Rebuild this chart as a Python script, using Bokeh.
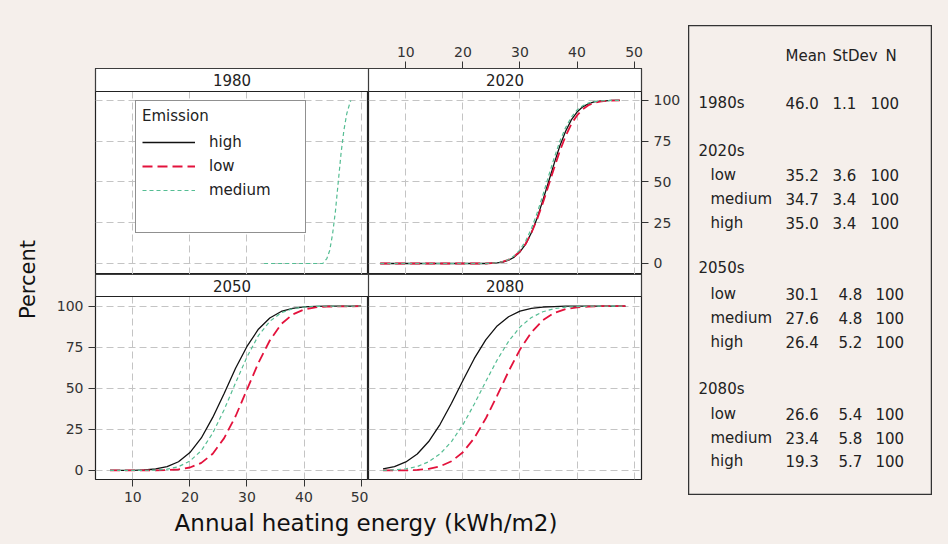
import math
from bokeh.plotting import figure
from bokeh.models import (Range1d, FixedTicker, Grid, BoxAnnotation, Label, Legend,
                          LegendItem, ColumnDataSource, Spacer)
from bokeh.layouts import row, column
from bokeh.core.properties import value
from bokeh.embed import file_html
from bokeh.resources import INLINE

# ---------------- data ----------------
PANEL_TITLES = ["1980", "2020", "2050", "2080"]
X_TICKS = [10, 20, 30, 40, 50]
Y_TICKS = [0, 25, 50, 75, 100]
X_LABEL = "Annual heating energy (kWh/m2)"
Y_LABEL = "Percent"
LEGEND_TITLE = "Emission"
SERIES = ["high", "low", "medium"]

# 1980 (only one series)
X_1980 = [33, 43.3, 44, 44.5, 45, 45.5, 46, 46.5, 47, 47.5, 48, 48.2]
MED_1980 = [0, 0, 3, 8, 18, 32, 50, 68, 82, 92, 98, 100]

# 2020
X_2020 = [5.5, 24, 25, 26, 27, 28, 29, 30, 31, 32, 33, 34, 35, 36, 37, 38, 39, 40,
          41, 42, 43, 44, 45, 46, 47.5]
HIGH_2020 = [0, 0, 0.2, 0.4, 0.9, 2.0, 3.9, 7.1, 11.9, 18.9, 27.8, 38.6, 50, 61.4,
             72.2, 81.1, 88.1, 92.9, 96.1, 98.0, 99.1, 99.6, 99.8, 100, 100]
LOW_2020 = [0, 0, 0.2, 0.5, 1.1, 2.3, 4.3, 7.5, 12.1, 18.7, 27.1, 37.0, 47.8, 58.7,
            69.1, 78.2, 85.5, 90.8, 94.6, 97.1, 98.5, 99.3, 99.7, 99.9, 100]
MED_2020 = [0, 0, 0.2, 0.5, 1.2, 2.4, 4.7, 8.4, 13.8, 21.4, 30.9, 41.8, 53.5, 64.8,
            75.1, 83.4, 89.7, 94.1, 96.8, 98.4, 99.3, 99.7, 99.9, 100, 100]

# 2050
X_2050 = [6, 8, 10, 12, 14, 16, 18, 20, 22, 24, 26, 28, 30, 32, 34, 36, 38, 40, 42, 44, 50]
HIGH_2050 = [0, 0, 0.1, 0.3, 0.9, 2.3, 5.3, 10.9, 19.8, 32.3, 46.9, 62.2, 75.5, 86.0,
             92.8, 96.8, 98.7, 99.6, 99.9, 100, 100]
LOW_2050 = [0, 0, 0, 0, 0, 0.2, 0.6, 1.8, 4.6, 10.2, 19.7, 33.0, 49.2, 65.5, 79.1,
            89.1, 95.0, 98.0, 99.3, 99.8, 100]
MED_2050 = [0, 0, 0, 0.1, 0.2, 0.8, 2.3, 5.7, 12.1, 22.7, 37.0, 53.3, 69.1, 82.1, 90.8,
            96.0, 98.5, 99.5, 99.9, 100, 100]

# 2080
X_2080 = [6, 8, 10, 12, 14, 16, 18, 20, 22, 24, 26, 28, 30, 32, 34, 36, 38, 40, 42, 44, 48.5]
HIGH_2080 = [1.0, 2.4, 5.2, 10.0, 17.6, 28.1, 40.9, 54.8, 68.2, 79.5, 88.0, 93.6, 97.0,
             98.7, 99.5, 99.8, 100, 100, 100, 100, 100]
LOW_2080 = [0, 0, 0.1, 0.3, 1.0, 2.5, 5.6, 11.1, 19.8, 31.6, 45.6, 60.3, 73.6, 84.1,
            91.5, 95.9, 98.3, 99.3, 99.8, 100, 100]
MED_2080 = [0.1, 0.4, 1.0, 2.4, 5.3, 10.1, 17.6, 27.8, 40.5, 54.1, 67.3, 78.6, 87.3,
            93.1, 96.6, 98.5, 99.4, 99.8, 100, 100, 100]

# summary table
TABLE_HEAD = ["Mean", "StDev", "N"]
PERIOD_LABELS = ["1980s", "2020s", "2050s", "2080s"]
ROW_LABELS = ["", "low", "medium", "high", "low", "medium", "high", "low", "medium", "high"]
MEANS = [46.0, 35.2, 34.7, 35.0, 30.1, 27.6, 26.4, 26.6, 23.4, 19.3]
STDEVS = [1.1, 3.6, 3.4, 3.4, 4.8, 4.8, 5.2, 5.4, 5.8, 5.7]
COUNTS = [100, 100, 100, 100, 100, 100, 100, 100, 100, 100]

# ---------------- styles ----------------
BG = "#f5efeb"
FONT = "DejaVu Sans"
INK = "#222222"
STYLE = {
    "high": dict(line_color="#111111", line_width=1.3),
    "low": dict(line_color="#e3123c", line_width=1.8, line_dash="10 5"),
    "medium": dict(line_color="#55bd93", line_width=1.2, line_dash="4 3"),
}
X_LO, X_HI = 3.45, 51.3
NAN = [math.nan]


def panel(title, y_lo, y_top, y_hi, height, borders, xloc=None, yloc=None):
    l, r, t, b = borders
    p = figure(width=320, height=height, x_range=Range1d(X_LO, X_HI),
               y_range=Range1d(y_lo, y_hi), output_backend="svg", toolbar_location=None,
               x_axis_location=xloc, y_axis_location=yloc,
               min_border_left=l, min_border_right=r, min_border_top=t, min_border_bottom=b,
               background_fill_color="white", border_fill_color=BG,
               outline_line_color=INK, outline_line_width=1.2)
    p.center = [c for c in p.center if not isinstance(c, Grid)]
    for dim, ticks in ((0, X_TICKS), (1, Y_TICKS)):
        p.add_layout(Grid(dimension=dim, ticker=FixedTicker(ticks=ticks),
                          grid_line_color="#c4c4c4", grid_line_dash="7 4",
                          grid_line_width=1), "center")
    for ax, ticks in ((p.xaxis, X_TICKS), (p.yaxis, Y_TICKS)):
        if len(ax) == 0:
            continue
        ax.ticker = FixedTicker(ticks=ticks)
        ax.axis_line_color = None
        ax.major_tick_in = 0
        ax.major_tick_out = 7
        ax.major_tick_line_color = "#333333"
        ax.minor_tick_line_color = None
        ax.major_label_standoff = 5
        ax.major_label_text_font = FONT
        ax.major_label_text_font_size = "14px"
        ax.major_label_text_color = "#333333"
    p.add_layout(BoxAnnotation(bottom=y_top, fill_color="white", fill_alpha=1,
                               line_color=INK, line_width=1.2, line_alpha=1))
    p.add_layout(Label(x=(X_LO + X_HI) / 2, y=(y_top + y_hi) / 2, text=title,
                       text_align="center", text_baseline="middle", text_font=FONT,
                       text_font_size="15px", text_color=INK, level="overlay"))
    return p


# row geometry (value ranges chosen so gridlines land where the reference draws them)
TOP_Y = (-6.75, 105.5, 119.6)
BOT_Y = (-5.5, 105.9, 119.3)

tl = panel(PANEL_TITLES[0], *TOP_Y, 266, (47, 0, 60, 0))
tr = panel(PANEL_TITLES[1], *TOP_Y, 266, (0, 47, 60, 0), xloc="above", yloc="right")
bl = panel(PANEL_TITLES[2], *BOT_Y, 236, (47, 0, 0, 31), xloc="below", yloc="left")
br = panel(PANEL_TITLES[3], *BOT_Y, 236, (0, 47, 0, 31))

# 1980 panel + legend (high/low have no 1980 data: legend-only renderers)
r_high = tl.line(NAN, NAN, **STYLE["high"])
r_low = tl.line(NAN, NAN, **STYLE["low"])
r_med = tl.line(X_1980, MED_1980, **STYLE["medium"])
r_pad = tl.line(NAN, NAN, line_alpha=0)
legend = Legend(items=[LegendItem(label=SERIES[0], renderers=[r_high]),
                       LegendItem(label=SERIES[1], renderers=[r_low]),
                       LegendItem(label=SERIES[2], renderers=[r_med]),
                       LegendItem(label=" ", renderers=[r_pad])],
                location=(40, 41), title=LEGEND_TITLE, padding=6, spacing=0, margin=0,
                glyph_width=53, glyph_height=24, label_height=24, label_standoff=14,
                label_width=90, title_standoff=5,
                border_line_color=INK, border_line_width=1.3,
                background_fill_color="white", background_fill_alpha=1,
                label_text_font=FONT, label_text_font_size="15px", label_text_color=INK,
                title_text_font=FONT, title_text_font_size="15px",
                title_text_font_style="normal", title_text_color=INK)
tl.add_layout(legend)

for p, xs, hi, lo, me in ((tr, X_2020, HIGH_2020, LOW_2020, MED_2020),
                          (bl, X_2050, HIGH_2050, LOW_2050, MED_2050),
                          (br, X_2080, HIGH_2080, LOW_2080, MED_2080)):
    p.line(xs, hi, **STYLE["high"])
    p.line(xs, lo, **STYLE["low"])
    p.line(xs, me, **STYLE["medium"])

# axis titles
ylab = figure(width=40, height=528, x_range=Range1d(0, 40), y_range=Range1d(0, 528),
              output_backend="svg", toolbar_location=None, x_axis_location=None,
              y_axis_location=None, min_border=0, background_fill_color=BG,
              border_fill_color=BG, outline_line_color=None)
ylab.grid.visible = False
ylab.add_layout(Label(x=19.5, y=257, text=Y_LABEL, angle=math.pi / 2, text_align="center",
                      text_baseline="middle", text_font=FONT, text_font_size="21px",
                      text_color="#111111"))

xlab = figure(width=640, height=26, x_range=Range1d(0, 640), y_range=Range1d(0, 26),
              output_backend="svg", toolbar_location=None, x_axis_location=None,
              y_axis_location=None, min_border=0, background_fill_color=BG,
              border_fill_color=BG, outline_line_color=None)
xlab.grid.visible = False
xlab.add_layout(Label(x=317.5, y=14, text=X_LABEL, text_align="center",
                      text_baseline="middle", text_font=FONT, text_font_size="23px",
                      text_color="#111111"))

# summary table (data coordinates = page pixel coordinates)
tab = figure(width=244, height=470, x_range=Range1d(688, 932), y_range=Range1d(495, 25),
             output_backend="svg", toolbar_location=None, x_axis_location=None,
             y_axis_location=None, min_border=0, background_fill_color=BG,
             border_fill_color=BG, outline_line_color="#333333", outline_line_width=1.5)
tab.grid.visible = False

tx, ty, tt = [], [], []
for lab, x in zip(TABLE_HEAD, [785, 832, 885]):
    tx.append(x); ty.append(55); tt.append(lab)
for lab, y in zip(PERIOD_LABELS, [102, 150, 267, 388]):
    tx.append(698); ty.append(y); tt.append(lab)
row_y = [102, 174, 198, 222, 293, 317, 341, 413, 437, 460]
for i, (lab, m, s, n) in enumerate(zip(ROW_LABELS, MEANS, STDEVS, COUNTS)):
    y = row_y[i]
    cols = [785, 832, 870] if i < 4 else [785, 838, 875]
    if lab:
        tx.append(710); ty.append(y); tt.append(lab)
    for x, t in zip(cols, [f"{m:.1f}", f"{s:.1f}", str(n)]):
        tx.append(x); ty.append(y); tt.append(t)
tab.text(x="x", y="y", text="t", source=ColumnDataSource(dict(x=tx, y=ty, t=tt)),
         text_font=value(FONT), text_font_size=value("15px"), text_baseline="middle",
         text_align="left", text_color=INK)

root = row(
    ylab,
    column(row(tl, tr), row(bl, br), xlab),
    column(Spacer(width=244, height=17, styles={"background-color": BG}), tab,
           Spacer(width=244, height=41, styles={"background-color": BG})),
    Spacer(width=8, height=528, styles={"background-color": BG}),
)

html = file_html(root, INLINE)
html = html.replace(
    "</head>",
    "<style>html,body{background:%s !important;overflow:hidden !important;}"
    "body{margin:0 !important;padding:8px !important;box-sizing:border-box !important;}"
    "</style></head>" % BG, 1)
open("out.html", "w").write(html)
